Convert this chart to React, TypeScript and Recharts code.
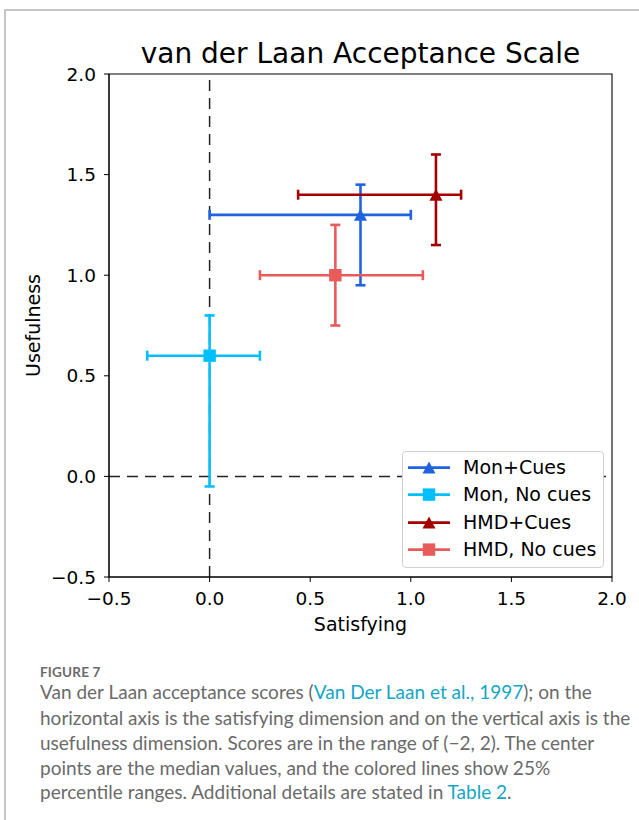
import React from 'react';
import {
  ScatterChart,
  Scatter,
  XAxis,
  YAxis,
  ErrorBar,
  ReferenceLine,
  ReferenceArea,
} from 'recharts';

// median and 25% percentile range per condition
const GROUPS = ['Mon+Cues', 'Mon, No cues', 'HMD+Cues', 'HMD, No cues'];
const SATISFYING = [0.75, 0, 1.125, 0.625];
const SATISFYING_LOW = [0, -0.31, 0.44, 0.25];
const SATISFYING_HIGH = [1.0, 0.25, 1.25, 1.06];
const USEFULNESS = [1.3, 0.6, 1.4, 1.0];
const USEFULNESS_LOW = [0.95, -0.05, 1.15, 0.75];
const USEFULNESS_HIGH = [1.45, 0.8, 1.6, 1.25];
const AXIS_TICKS = [-0.5, 0, 0.5, 1, 1.5, 2];

const COLORS = ['#1f63e0', '#00bfff', '#a50000', '#e85b5b'];
const MARKERS = ['triangle', 'square', 'triangle', 'square'];

const FONT = "'DejaVu Sans', sans-serif";
const CAPTION_FONT = "Lato, 'Open Sans', sans-serif";

const fmt = (v: number) => (v < 0 ? '\u2212' : '') + Math.abs(v).toFixed(1);

const rows = GROUPS.map((name, i) => ({
  name,
  x: SATISFYING[i],
  y: USEFULNESS[i],
  xErr: [SATISFYING[i] - SATISFYING_LOW[i], SATISFYING_HIGH[i] - SATISFYING[i]],
  yErr: [USEFULNESS[i] - USEFULNESS_LOW[i], USEFULNESS_HIGH[i] - USEFULNESS[i]],
}));

const Marker = ({ cx, cy, kind, color }: any) => {
  if (kind === 'triangle') {
    const w = 6.5;
    const h = 6;
    return (
      <path
        d={`M${cx},${cy - h} L${cx + w},${cy + h} L${cx - w},${cy + h} Z`}
        fill={color}
      />
    );
  }
  return <rect x={cx - 6.2} y={cy - 6.2} width={12.4} height={12.4} fill={color} />;
};

const LegendBox = () => (
  <div
    style={{
      position: 'absolute',
      left: 402,
      top: 451,
      width: 202,
      height: 117,
      boxSizing: 'border-box',
      border: '1px solid #d0d0d0',
      borderRadius: 4,
      background: '#fff',
    }}
  >
    {GROUPS.map((g, i) => (
      <div
        key={g}
        style={{
          position: 'absolute',
          left: 0,
          top: 15.5 + i * 27.4 - 13.6,
          height: 27.2,
          width: '100%',
        }}
      >
        <svg width={44} height={27} style={{ position: 'absolute', left: 5, top: 0 }}>
          <line x1={0} y1={13.6} x2={42} y2={13.6} stroke={COLORS[i]} strokeWidth={2.6} />
          <Marker cx={21} cy={13.6} kind={MARKERS[i]} color={COLORS[i]} />
        </svg>
        <span
          style={{
            position: 'absolute',
            left: 60,
            top: 0,
            lineHeight: '27.2px',
            fontSize: 19,
            fontFamily: FONT,
            color: '#000',
            whiteSpace: 'nowrap',
          }}
        >
          {g}
        </span>
      </div>
    ))}
  </div>
);

const captionLine: React.CSSProperties = {
  position: 'absolute',
  left: 40,
  fontFamily: CAPTION_FONT,
  fontSize: 19,
  color: '#6a6a6a',
  whiteSpace: 'nowrap',
  lineHeight: '24px',
};
const link = { color: '#14a6c6' };

export default function App() {
  return (
    <div
      style={{
        position: 'absolute',
        left: 0,
        top: 0,
        width: 639,
        height: 820,
        background: '#fff',
        overflow: 'hidden',
      }}
    >
      <div
        style={{
          position: 'absolute',
          left: 4,
          top: 9,
          width: 700,
          height: 900,
          borderTop: '2px solid #c6c6c6',
          borderLeft: '2px solid #c6c6c6',
        }}
      />
      <div
        style={{
          position: 'absolute',
          left: 60.5,
          top: 39.5,
          width: 600,
          textAlign: 'center',
          fontFamily: FONT,
          fontSize: 28,
          lineHeight: '28px',
          color: '#000',
          whiteSpace: 'nowrap',
        }}
      >
        van der Laan Acceptance Scale
      </div>
      <div style={{ position: 'absolute', left: 0, top: 0 }}>
        <ScatterChart
          width={639}
          height={660}
          margin={{ top: 74, right: 27, left: 19, bottom: 23 }}
        >
          <XAxis
            type='number'
            dataKey='x'
            domain={[-0.5, 2]}
            ticks={AXIS_TICKS}
            interval={0}
            allowDataOverflow
            tickFormatter={fmt}
            height={60}
            tickSize={5}
            tickMargin={10}
            stroke='#000'
            tick={{ fill: '#000', fontSize: 18.5, fontFamily: FONT }}
            label={{
              value: 'Satisfying',
              position: 'insideBottom',
              offset: 6,
              fill: '#000',
              fontSize: 19,
              fontFamily: FONT,
            }}
          />
          <YAxis
            type='number'
            dataKey='y'
            domain={[-0.5, 2]}
            ticks={AXIS_TICKS}
            interval={0}
            allowDataOverflow
            tickFormatter={fmt}
            width={90}
            tickSize={5}
            tickMargin={8}
            stroke='#000'
            tick={{ fill: '#000', fontSize: 18.5, fontFamily: FONT }}
            label={{
              value: 'Usefulness',
              angle: -90,
              position: 'insideLeft',
              offset: 14,
              fill: '#000',
              fontSize: 19,
              fontFamily: FONT,
              style: { textAnchor: 'middle' },
            }}
          />
          <ReferenceLine x={0} stroke='#222' strokeWidth={1.5} strokeDasharray='11 7' />
          <ReferenceLine y={0} stroke='#222' strokeWidth={1.5} strokeDasharray='11 7' />
          {rows.map((r, i) => (
            <Scatter
              key={r.name}
              name={r.name}
              data={[r]}
              fill={COLORS[i]}
              isAnimationActive={false}
              shape={(p: any) => (
                <Marker cx={p.cx} cy={p.cy} kind={MARKERS[i]} color={COLORS[i]} />
              )}
            >
              <ErrorBar
                dataKey='xErr'
                direction='x'
                width={5}
                stroke={COLORS[i]}
                strokeWidth={2.6}
                isAnimationActive={false}
              />
              <ErrorBar
                dataKey='yErr'
                direction='y'
                width={5}
                stroke={COLORS[i]}
                strokeWidth={2.6}
                isAnimationActive={false}
              />
            </Scatter>
          ))}
          <ReferenceArea
            x1={-0.5}
            x2={2}
            y1={-0.5}
            y2={2}
            fill='none'
            fillOpacity={0}
            stroke='#000'
            strokeWidth={1.1}
          />
        </ScatterChart>
      </div>
      <LegendBox />
      <div
        style={{
          ...captionLine,
          top: 660,
          fontSize: 13.5,
          fontWeight: 700,
          color: '#6a6a6a',
          letterSpacing: 0.2,
        }}
      >
        FIGURE 7
      </div>
      <div style={{ ...captionLine, top: 680 }}>
        Van der Laan acceptance scores (<span style={link}>Van Der Laan et al., 1997</span>); on the
      </div>
      <div style={{ ...captionLine, top: 705.5 }}>
        horizontal axis is the satisfying dimension and on the vertical axis is the
      </div>
      <div style={{ ...captionLine, top: 731 }}>
        usefulness dimension. Scores are in the range of (&minus;2, 2). The center
      </div>
      <div style={{ ...captionLine, top: 755.5 }}>
        points are the median values, and the colored lines show 25%
      </div>
      <div style={{ ...captionLine, top: 780 }}>
        percentile ranges. Additional details are stated in <span style={link}>Table 2</span>.
      </div>
    </div>
  );
}
